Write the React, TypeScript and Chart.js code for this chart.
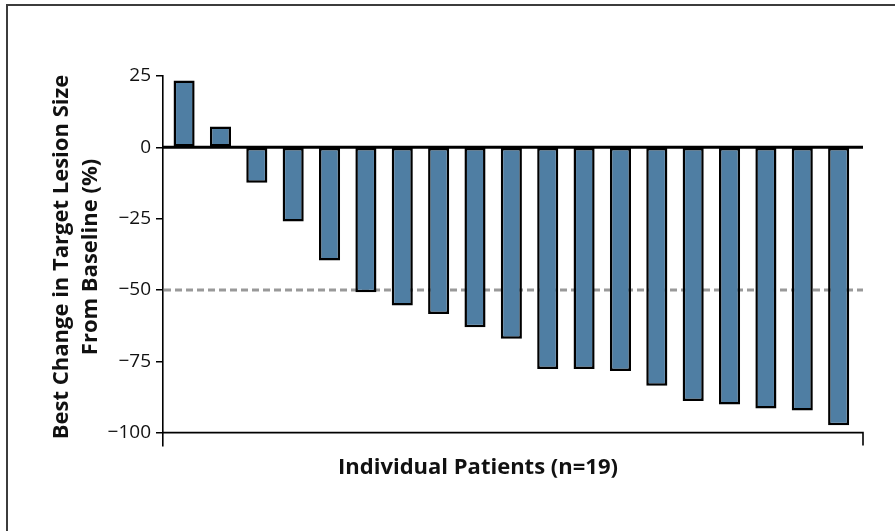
import React, { useEffect, useRef } from "react";
import { Chart, registerables } from "chart.js";

Chart.register(...registerables);

const patientIndex = [1, 2, 3, 4, 5, 6, 7, 8, 9, 10, 11, 12, 13, 14, 15, 16, 17, 18, 19];
const bestChange = [23.4, 7.3, -12.4, -26.0, -39.7, -50.8, -55.4, -58.4, -63.1, -67.1, -77.7, -77.7, -78.4, -83.6, -88.9, -90.1, -91.5, -92.2, -97.4];
const yTickValues = [25, 0, -25, -50, -75, -100];
const thresholdValue = -50;
const axisBaseValue = -100;
const yTitleLines = ["Best Change in Target Lesion Size", "From Baseline (%)"];
const xTitle = "Individual Patients (n=19)";

const FONT = "'Open Sans', 'Noto Sans', sans-serif";

export default function App() {
  const canvasRef = useRef<HTMLCanvasElement | null>(null);

  useEffect(() => {
    const canvas = canvasRef.current;
    if (!canvas) return;

    const decorPlugin = {
      id: "decor",
      beforeDatasetsDraw(chart: any) {
        const { ctx, chartArea, scales } = chart;
        const y = scales.y.getPixelForValue(thresholdValue);
        ctx.save();
        ctx.strokeStyle = "#999999";
        ctx.lineWidth = 3;
        ctx.setLineDash([7, 4]);
        ctx.beginPath();
        ctx.moveTo(chartArea.left + 1, y);
        ctx.lineTo(chartArea.right, y);
        ctx.stroke();
        ctx.restore();
      },
      afterDatasetsDraw(chart: any) {
        const { ctx, chartArea, scales } = chart;
        const y0 = scales.y.getPixelForValue(0);
        const yb = scales.y.getPixelForValue(axisBaseValue);
        ctx.save();
        ctx.strokeStyle = "#000";
        ctx.lineWidth = 3;
        ctx.beginPath();
        ctx.moveTo(chartArea.left, y0);
        ctx.lineTo(chartArea.right, y0);
        ctx.stroke();
        ctx.lineWidth = 1.6;
        ctx.beginPath();
        ctx.moveTo(chartArea.left, yb);
        ctx.lineTo(chartArea.right, yb);
        ctx.lineTo(chartArea.right, chartArea.bottom);
        ctx.stroke();
        ctx.restore();
      },
      afterDraw(chart: any) {
        const { ctx, chartArea } = chart;
        ctx.save();
        ctx.fillStyle = "#111";
        ctx.font = `bold 22px ${FONT}`;
        ctx.textAlign = "center";
        ctx.textBaseline = "middle";
        ctx.fillText(xTitle, chartArea.left + 315, chartArea.bottom + 22);
        ctx.translate(0, 257);
        ctx.rotate(-Math.PI / 2);
        ctx.fillText(yTitleLines[0], 0, 62);
        ctx.fillText(yTitleLines[1], 0, 91);
        ctx.restore();
      },
    };

    const chart = new Chart(canvas, {
      type: "bar",
      data: {
        datasets: [
          {
            data: patientIndex.map((p, i) => ({ x: p, y: bestChange[i] })),
            backgroundColor: "#4f7ea3",
            borderColor: "#000",
            borderWidth: 2.5,
            borderSkipped: false,
            categoryPercentage: 1,
            barPercentage: 0.58,
          },
        ],
      },
      options: {
        responsive: false,
        animation: false,
        events: [],
        layout: { padding: { left: 0, right: 32, top: 76, bottom: 85.5 } },
        plugins: { legend: { display: false }, tooltip: { enabled: false } },
        scales: {
          x: {
            type: "linear",
            display: false,
            offset: false,
            grid: { offset: false },
            min: 0.42,
            max: 19.67,
          },
          y: {
            min: -104.5,
            max: 25,
            afterBuildTicks(scale: any) {
              scale.ticks = yTickValues.map((v) => ({ value: v }));
            },
            afterFit(scale: any) {
              scale.width = 163;
            },
            grid: {
              display: true,
              drawOnChartArea: false,
              drawTicks: true,
              tickLength: 7,
              color: "#000",
              lineWidth: 1.5,
            },
            border: { display: true, color: "#000", width: 1.6 },
            ticks: {
              padding: 5,
              color: "#111",
              font: { family: FONT, size: 19 },
              callback: (v: any) => (Number(v) < 0 ? "\u2212" + Math.abs(Number(v)) : String(v)),
            },
          },
        },
      },
      plugins: [decorPlugin],
    });

    return () => chart.destroy();
  }, []);

  return (
    <div style={{ position: "fixed", left: 0, top: 0, width: 895, height: 531, overflow: "hidden", background: "#fff" }}>
      <div
        style={{
          position: "absolute",
          left: 6,
          top: 4,
          width: 1000,
          height: 700,
          border: "2px solid #3c3c3c",
        }}
      />
      <canvas ref={canvasRef} width={895} height={531} style={{ position: "absolute", left: 0, top: 0 }} />
    </div>
  );
}
